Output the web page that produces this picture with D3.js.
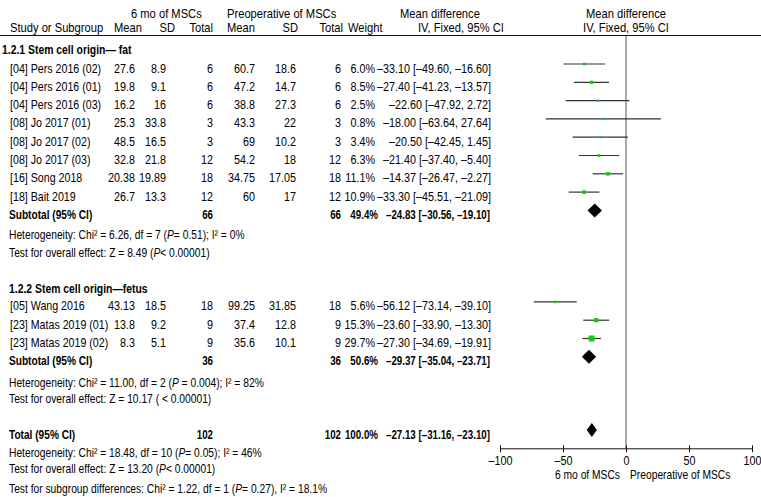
<!DOCTYPE html>
<html><head><meta charset="utf-8">
<script src="https://cdn.jsdelivr.net/npm/d3@7"></script>
<style>
html,body{margin:0;padding:0;background:#fff;}
svg{display:block;}
text{font-family:"Liberation Sans",Arial,sans-serif;font-size:13px;fill:#000;}
</style></head>
<body>
<svg id="c" width="761" height="497"></svg>
<script>
// ---------- data ----------
const g1Study = ["[04] Pers  2016 (02)","[04] Pers 2016 (01)","[04] Pers 2016 (03)","[08] Jo 2017 (01)","[08] Jo 2017 (02)","[08] Jo 2017 (03)","[16] Song 2018","[18] Bait 2019"];
const g1Mean6 = [27.6,19.8,16.2,25.3,48.5,32.8,20.38,26.7];
const g1Sd6 = [8.9,9.1,16,33.8,16.5,21.8,19.89,13.3];
const g1N6 = [6,6,6,3,3,12,18,12];
const g1MeanPre = [60.7,47.2,38.8,43.3,69,54.2,34.75,60];
const g1SdPre = [18.6,14.7,27.3,22,10.2,18,17.05,17];
const g1NPre = [6,6,6,3,3,12,18,12];
const g1Weight = [6.0,8.5,2.5,0.8,3.4,6.3,11.1,10.9];
const g1MD = [-33.10,-27.40,-22.60,-18.00,-20.50,-21.40,-14.37,-33.30];
const g1Lo = [-49.60,-41.23,-47.92,-63.64,-42.45,-37.40,-26.47,-45.51];
const g1Hi = [-16.60,-13.57,2.72,27.64,1.45,-5.40,-2.27,-21.09];

const g2Study = ["[05] Wang 2016","[23] Matas 2019 (01)","[23] Matas 2019 (02)"];
const g2Mean6 = [43.13,13.8,8.3];
const g2Sd6 = [18.5,9.2,5.1];
const g2N6 = [18,9,9];
const g2MeanPre = [99.25,37.4,35.6];
const g2SdPre = [31.85,12.8,10.1];
const g2NPre = [18,9,9];
const g2Weight = [5.6,15.3,29.7];
const g2MD = [-56.12,-23.60,-27.30];
const g2Lo = [-73.14,-33.90,-34.69];
const g2Hi = [-39.10,-13.30,-19.91];

const sumLabel = ["Subtotal (95% CI)","Subtotal (95% CI)","Total (95% CI)"];
const sumN6 = [66,36,102];
const sumNPre = [66,36,102];
const sumWeight = [49.4,50.6,100.0];
const sumMD = [-24.83,-29.37,-27.13];
const sumLo = [-30.56,-35.04,-31.16];
const sumHi = [-19.10,-23.71,-23.10];

const groupTitles = ["1.2.1 Stem cell origin\u2014 fat","1.2.2 Stem cell origin\u2014fetus"];
const hetLines = [
  [["Heterogeneity: Chi\u00b2 = 6.26, df = 7 (",0],["P",1],["= 0.51); I\u00b2 = 0%",0]],
  [["Test for overall effect: Z = 8.49 (",0],["P",1],["< 0.00001)",0]],
  [["Heterogeneity: Chi\u00b2 = 11.00, df = 2 (",0],["P",1],[" = 0.004); I\u00b2 = 82%",0]],
  [["Test for overall effect: Z = 10.17 (   < 0.00001)",0]],
  [["Heterogeneity: Chi\u00b2 = 18.48, df = 10 (",0],["P",1],["= 0.05); I\u00b2 = 46%",0]],
  [["Test for overall effect: Z = 13.20 (",0],["P",1],["< 0.00001)",0]],
  [["Test for subgroup differences: Chi\u00b2 = 1.22, df = 1 (",0],["P",1],["= 0.27), I\u00b2 = 18.1%",0]]
];
const tickVals = [-100,-50,0,50,100];
const favLabels = ["6 mo  of MSCs","Preoperative of MSCs"];

// ---------- layout ----------
const svg = d3.select("#c");
const SX_TXT = 0.79, SX_HEAD = 0.86, SX_LAB = 0.82, SX_NUM = 0.83, SX_BTXT = 0.78, SX_BNUM = 0.75;
const x = d3.scaleLinear().domain([-100,100]).range([500,752]);
const yRow = d3.scaleLinear().domain([0,1]).range([64,82.3]);
const TO = 8.5; // text baseline offset from row centre
const fmtNum = v => String(v);
const dash = v => (v<0?"\u2013":"") + Math.abs(v).toFixed(2);
const ci = (m,l,h) => `${dash(m)} [${dash(l)}, ${dash(h)}]`;

function txt(px, py, s, anchor="start", bold=false, sx=null){
  const k = sx!==null ? sx : (bold?SX_BTXT:SX_TXT);
  const t = svg.append("text")
    .attr("transform",`translate(${px},${py}) scale(${k},1)`)
    .attr("text-anchor",anchor);
  if(bold) t.attr("font-weight","bold");
  if(Array.isArray(s)){
    s.forEach(([str,it])=>{ const sp=t.append("tspan").text(str); if(it) sp.attr("font-style","italic"); });
  } else t.text(s);
  return t;
}
const num = (px,py,s,bold=false) => txt(px,py,s,"end",bold,bold?SX_BNUM:SX_NUM);
const head = (px,py,s,anchor="start") => txt(px,py,s,anchor,false,SX_HEAD);

// header
head(131,17.5,"6 mo  of MSCs");
head(227,17.5,"Preoperative of MSCs");
head(400,17.5,"Mean difference");
head(626,17.5,"Mean difference","middle");
head(10,32,"Study or Subgroup");
head(142,32,"Mean","end");
head(175,32,"SD","end");
head(213,32,"Total","end");
head(255,32,"Mean","end");
head(298,32,"SD","end");
head(343,32,"Total","end");
head(348,32,"Weight");
head(418,32,"IV, Fixed, 95% CI");
head(626,32,"IV, Fixed, 95% CI","middle");
svg.append("line").attr("x1",0).attr("x2",761).attr("y1",35.5).attr("y2",35.5)
  .attr("stroke","#111").attr("stroke-width",1);

// zero line
svg.append("line").attr("x1",x(0)).attr("x2",x(0)).attr("y1",36).attr("y2",yRow(21))
  .attr("stroke","#8c8c8c").attr("stroke-width",1.5);

// study rows
function drawGroup(startIdx, st, m6, s6, n6, mp, sp, np, w, md, lo, hi){
  st.forEach((name,i)=>{
    const yc = yRow(startIdx+i), yb = yc+TO;
    txt(10,yb,name,"start",false,SX_LAB);
    num(135,yb,fmtNum(m6[i]));
    num(166,yb,fmtNum(s6[i]));
    num(213,yb,fmtNum(n6[i]));
    num(255,yb,fmtNum(mp[i]));
    num(296,yb,fmtNum(sp[i]));
    num(341,yb,fmtNum(np[i]));
    num(375,yb,w[i].toFixed(1)+"%");
    num(491,yb,ci(md[i],lo[i],hi[i]));
    svg.append("line").attr("x1",x(lo[i])).attr("x2",x(hi[i])).attr("y1",yc).attr("y2",yc)
      .attr("stroke","#333").attr("stroke-width",1.2);
    const s = Math.max(2.2, 1.1*Math.sqrt(w[i]));
    svg.append("rect").attr("x",x(md[i])-s/2).attr("y",yc-s/2).attr("width",s).attr("height",s)
      .attr("fill","#11cc11");
  });
}
function drawSummary(idx, k, labelX){
  const yc = yRow(idx), yb = yc+TO;
  txt(labelX,yb,sumLabel[k],"start",true);
  num(213,yb,fmtNum(sumN6[k]),true);
  num(341,yb,fmtNum(sumNPre[k]),true);
  num(378,yb,sumWeight[k].toFixed(1)+"%",true);
  num(490,yb,ci(sumMD[k],sumLo[k],sumHi[k]),true);
  const h = 7;
  svg.append("path")
    .attr("d",`M${x(sumLo[k])},${yc}L${x(sumMD[k])},${yc-h}L${x(sumHi[k])},${yc}L${x(sumMD[k])},${yc+h}Z`)
    .attr("fill","#000");
}

txt(2,54,groupTitles[0],"start",true,0.8);
drawGroup(0,g1Study,g1Mean6,g1Sd6,g1N6,g1MeanPre,g1SdPre,g1NPre,g1Weight,g1MD,g1Lo,g1Hi);
drawSummary(8,0,9);
txt(9,239,hetLines[0]);
txt(9,257,hetLines[1]);

txt(9,292.5,groupTitles[1],"start",true,0.8);
drawGroup(13,g2Study,g2Mean6,g2Sd6,g2N6,g2MeanPre,g2SdPre,g2NPre,g2Weight,g2MD,g2Lo,g2Hi);
drawSummary(16,1,9);
txt(9,386.5,hetLines[2]);
txt(9,403,hetLines[3]);

drawSummary(20,2,9);
txt(9,456.5,hetLines[4]);
txt(9,473,hetLines[5]);
txt(9,493,hetLines[6]);

// axis
const axY = yRow(21);
const ax = svg.append("g").attr("transform",`translate(0,${axY})`)
  .call(d3.axisBottom(x).tickValues(tickVals).tickSize(4).tickSizeOuter(0).tickPadding(3)
    .tickFormat(d=> d<0 ? "\u2013"+Math.abs(d) : String(d)));
ax.select(".domain").attr("stroke","#111");
ax.selectAll(".tick line").attr("y1",-3).attr("stroke","#111");
ax.selectAll(".tick text").attr("font-size",13).attr("fill","#000")
  .attr("font-family","Liberation Sans, Arial, sans-serif")
  .each(function(){ const t=d3.select(this); t.attr("transform",`scale(${SX_NUM},1)`).attr("x",0); });
txt(620,479,favLabels[0],"end");
txt(630,479,favLabels[1]);
</script>
</body></html>
